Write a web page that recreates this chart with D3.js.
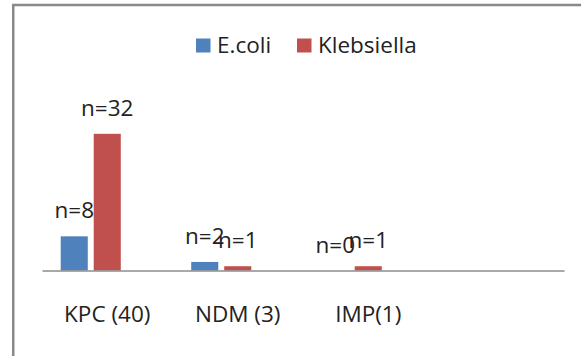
<!DOCTYPE html>
<html><head><meta charset="utf-8">
<script src="https://cdn.jsdelivr.net/npm/d3@7"></script>
<style>body{margin:0;background:#fff}svg{display:block}</style>
</head><body>
<script>
const categories = ["KPC (40)", "NDM (3)", "IMP(1)", ""];
const seriesNames = ["E.coli", "Klebsiella"];
const ecoli = [8, 2, 0, null];
const klebsiella = [32, 1, 1, null];
const colors = ["#4F81BD", "#C0504D"];

const W = 581, H = 356;
const svg = d3.select("body").append("svg").attr("width", W).attr("height", H);
const font = "'Open Sans', sans-serif";
const fs = 22.5;

// frame
svg.append("rect").attr("x", 13.25).attr("y", 5).attr("width", 600).attr("height", 400)
  .attr("fill", "none").attr("stroke", "#898989").attr("stroke-width", 2.5);

const x0 = d3.scaleBand().domain(categories).range([42, 564]).paddingInner(0).paddingOuter(0);
const x1 = d3.scaleBand().domain(["E.coli", "Klebsiella", "_"]).range([0, x0.bandwidth()])
  .paddingInner(0.18).paddingOuter(0.567);
const y = d3.scaleLinear().domain([0, 35]).range([270.5, 121]);

const series = [ecoli, klebsiella];
series.forEach((vals, si) => {
  const data = categories.map((c, i) => ({c, v: vals[i]})).filter(d => d.v !== null);
  svg.append("g").selectAll("rect").data(data).join("rect")
    .attr("x", d => x0(d.c) + x1(seriesNames[si]))
    .attr("y", d => y(d.v))
    .attr("width", x1.bandwidth())
    .attr("height", d => y(0) - y(d.v))
    .attr("fill", colors[si]);
  svg.append("g").selectAll("text").data(data).join("text")
    .attr("x", d => x0(d.c) + x1(seriesNames[si]) + x1.bandwidth() / 2)
    .attr("y", d => y(d.v) - 18)
    .attr("text-anchor", "middle")
    .attr("font-family", font).attr("font-size", fs).attr("fill", "#222")
    .text(d => "n=" + d.v);
});

// axis
const xAxis = d3.axisBottom(x0).tickSize(0).tickPadding(0);
const ax = svg.append("g").attr("transform", `translate(0,${y(0)})`).call(xAxis);
ax.select(".domain").attr("stroke", "#8c8c8c").attr("stroke-width", 1.5);
ax.selectAll("text").attr("font-family", font).attr("font-size", fs).attr("fill", "#222")
  .attr("dy", null).attr("y", 322 - y(0));

// legend
const legX = [196, 297];
seriesNames.forEach((n, i) => {
  svg.append("rect").attr("x", legX[i]).attr("y", 38.5).attr("width", 14.5).attr("height", 14)
    .attr("fill", colors[i]);
  svg.append("text").attr("x", legX[i] + 21).attr("y", 52.7)
    .attr("font-family", font).attr("font-size", fs).attr("fill", "#222").text(n);
});
</script>
</body></html>
